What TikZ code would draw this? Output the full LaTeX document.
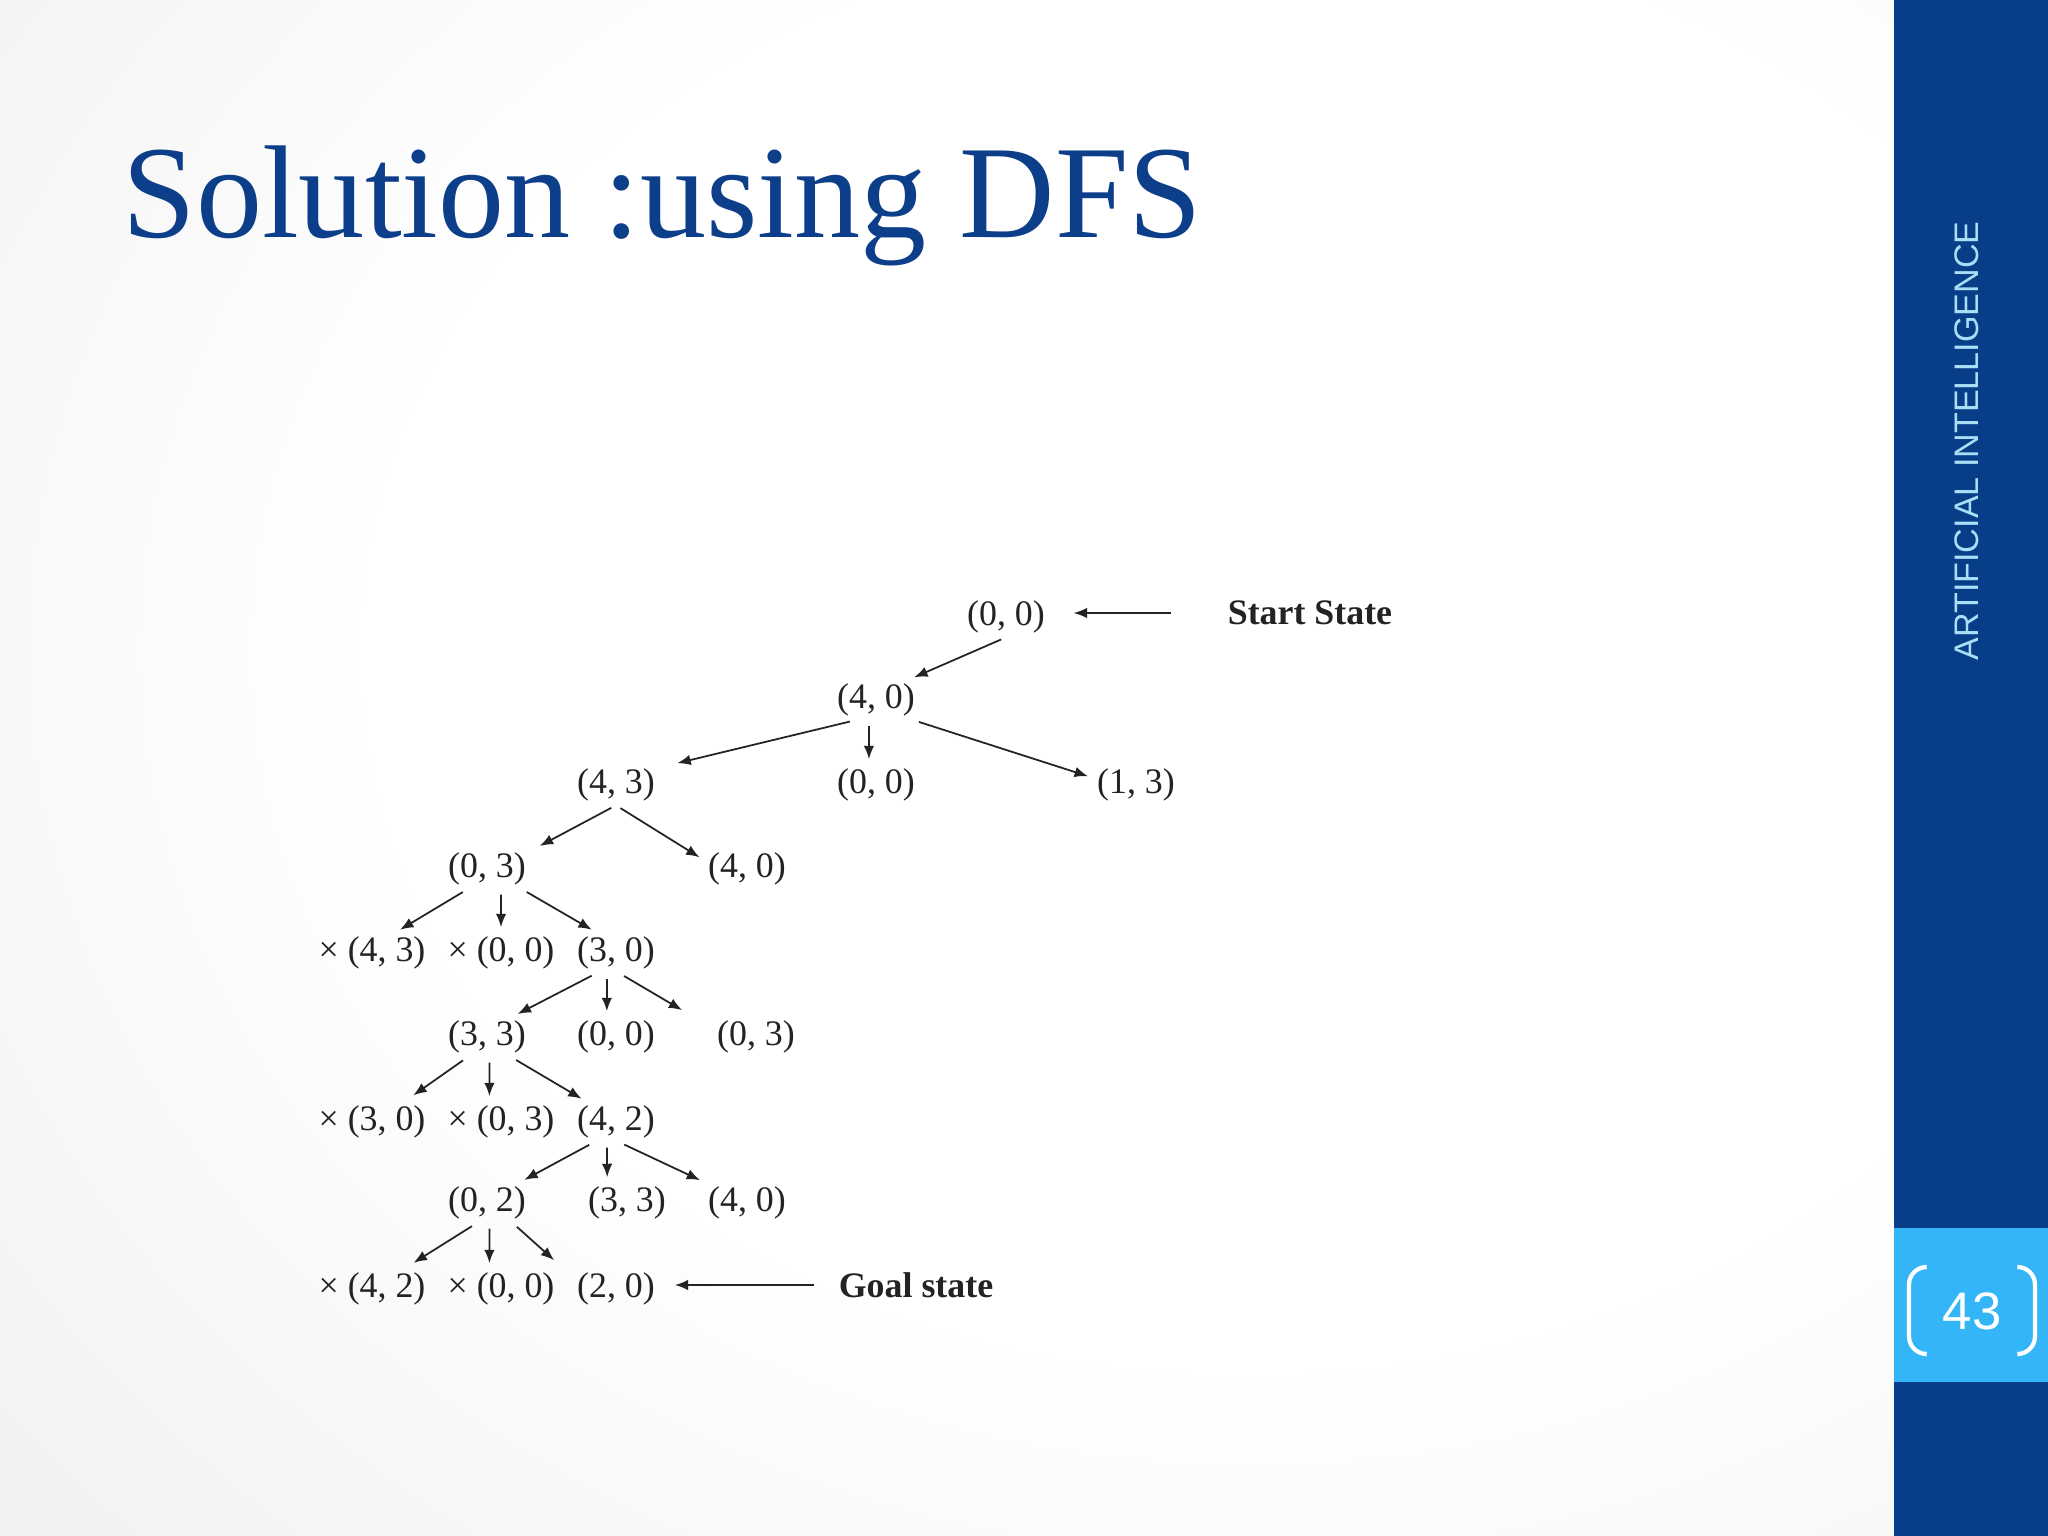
\documentclass[tikz,border=0pt]{standalone}
\usepackage{fontspec}
\setmainfont{Liberation Serif}
\newfontfamily\sidefont{Liberation Sans}
\usetikzlibrary{arrows.meta}

\definecolor{titleblue}{RGB}{12,62,138}
\definecolor{barblue}{RGB}{8,61,135}
\definecolor{tabblue}{RGB}{51,181,247}
\definecolor{bartext}{RGB}{170,221,246}
\definecolor{bgedge}{RGB}{222,222,222}
\definecolor{ink}{RGB}{35,35,35}

\pgfdeclareradialshading{slidebg}{\pgfpoint{0bp}{0bp}}{color(0bp)=(white); color(16bp)=(white); color(50bp)=(bgedge)}

\begin{document}
\begin{tikzpicture}[
    state/.style={inner xsep=1pt, inner ysep=1pt, yshift=-1.1pt, text=ink, font=\fontsize{10.2}{12}\selectfont},
    tag/.style={inner xsep=1pt, inner ysep=1pt, text=ink, font=\fontsize{10.2}{12}\selectfont\bfseries},
    arrow/.style={->, >={Latex[length=3.8pt,width=3pt]}, line width=0.5pt, draw=ink, shorten <=1.5pt, shorten >=1.5pt}
]
    \useasboundingbox (0,0) rectangle (20.48,-15.36);

    % slide background and side bar
    \begin{scope}
        \clip (0,0) rectangle (18.94,-15.36);
        \shade[shading=slidebg] (-1,4.5) rectangle (26,-17.5);
    \end{scope}
    \fill[barblue] (18.94,0) rectangle (20.48,-15.36);
    \fill[tabblue] (18.94,-12.28) rectangle (20.48,-13.82);
    \draw[white, line width=1.2pt, rounded corners=5pt] (19.25,-12.67) -- (19.09,-12.67) -- (19.09,-13.54) -- (19.25,-13.54);
    \draw[white, line width=1.2pt, rounded corners=5pt] (20.19,-12.67) -- (20.35,-12.67) -- (20.35,-13.54) -- (20.19,-13.54);
    \node[text=white, font=\sidefont\fontsize{15}{18}\selectfont] (pagenum) at (19.72,-13.11) {43};
    \node[text=bartext, rotate=90, font=\sidefont\fontsize{9.7}{11}\selectfont] (course) at (19.67,-4.41) {ARTIFICIAL INTELLIGENCE};

    \node[anchor=base west, inner sep=0pt, text=titleblue, font=\fontsize{37.6}{40}\selectfont] (title) at (1.22,-2.38) {Solution :using DFS};

    % search tree
    \node[state] (root) at (10.06,-6.13) {(0, 0)};
    \node[tag] (start) at (13.10,-6.13) {Start State};
    \node[state] (a40) at (8.76,-6.96) {(4, 0)};
    \node[state] (b43) at (6.16,-7.81) {(4, 3)};
    \node[state] (b00) at (8.76,-7.81) {(0, 0)};
    \node[state] (b13) at (11.36,-7.81) {(1, 3)};
    \node[state] (c03) at (4.87,-8.65) {(0, 3)};
    \node[state] (c40) at (7.47,-8.65) {(4, 0)};
    \node[state] (d43) at (3.72,-9.49) {× (4, 3)};
    \node[state] (d00) at (5.01,-9.49) {× (0, 0)};
    \node[state] (d30) at (6.16,-9.49) {(3, 0)};
    \node[state] (e33) at (4.87,-10.33) {(3, 3)};
    \node[state] (e00) at (6.16,-10.33) {(0, 0)};
    \node[state] (e03) at (7.56,-10.33) {(0, 3)};
    \node[state] (f30) at (3.72,-11.18) {× (3, 0)};
    \node[state] (f03) at (5.01,-11.18) {× (0, 3)};
    \node[state] (f42) at (6.16,-11.18) {(4, 2)};
    \node[state] (g02) at (4.87,-11.99) {(0, 2)};
    \node[state] (g33) at (6.27,-11.99) {(3, 3)};
    \node[state] (g40) at (7.47,-11.99) {(4, 0)};
    \node[state] (h42) at (3.72,-12.85) {× (4, 2)};
    \node[state] (h00) at (5.01,-12.85) {× (0, 0)};
    \node[state] (h20) at (6.16,-12.85) {(2, 0)};
    \node[tag] (goal) at (9.16,-12.85) {Goal state};

    \draw[arrow, shorten <=15pt, shorten >=7pt] (start) -- (start -| root.east);
    \draw[arrow, shorten <=6pt, shorten >=4.5pt] (goal) -- (goal -| h20.east);

    \draw[arrow] (root.south) -- ([xshift=9.5pt]a40.north);
    \draw[arrow] ([xshift=-6pt]a40.south) -- ([xshift=16pt]b43.north);
    \draw[arrow] ([xshift=-2pt]a40.south) -- ([xshift=-2pt]b00.north);
    \draw[arrow] ([xshift=10.8pt]a40.south) -- ([yshift=2pt]b13.west);
    \draw[arrow] (b43.south) -- ([xshift=13.7pt]c03.north);
    \draw[arrow] (b43.south) -- ([yshift=2.5pt]c40.west);
    \draw[arrow] ([xshift=-5.6pt]c03.south) -- ([xshift=6.7pt]d43.north);
    \draw[arrow] ([xshift=4pt]c03.south) -- (d00.north);
    \draw[arrow] ([xshift=10pt]c03.south) -- ([xshift=-5.6pt]d30.north);
    \draw[arrow] ([xshift=-5.6pt]d30.south) -- ([xshift=7.4pt]e33.north);
    \draw[arrow] ([xshift=-2.6pt]d30.south) -- ([xshift=-2.6pt]e00.north);
    \draw[arrow, shorten >=3.5pt] ([xshift=1pt]d30.south) -- ([xshift=-18pt]e03.north);
    \draw[arrow, shorten >=3pt] ([xshift=-5.6pt]e33.south) -- ([xshift=9.3pt]f30.north);
    \draw[arrow] ([xshift=0.7pt]e33.south) -- ([xshift=-3.3pt]f03.north);
    \draw[arrow] ([xshift=7pt]e33.south) -- ([xshift=-8.5pt]f42.north);
    \draw[arrow] ([xshift=-6.3pt]f42.south) -- ([xshift=9.3pt]g02.north);
    \draw[arrow] ([xshift=-2.6pt]f42.south) -- ([xshift=-5.6pt]g33.north);
    \draw[arrow] ([xshift=1pt]f42.south) -- ([xshift=-12pt]g40.north);
    \draw[arrow, shorten >=3pt] ([xshift=-3pt]g02.south) -- ([xshift=9.3pt]h42.north);
    \draw[arrow] ([xshift=0.7pt]g02.south) -- ([xshift=-3.3pt]h00.north);
    \draw[arrow, shorten >=3.5pt] ([xshift=7.4pt]g02.south) -- ([xshift=-15pt]h20.north);
\end{tikzpicture}
\end{document}
